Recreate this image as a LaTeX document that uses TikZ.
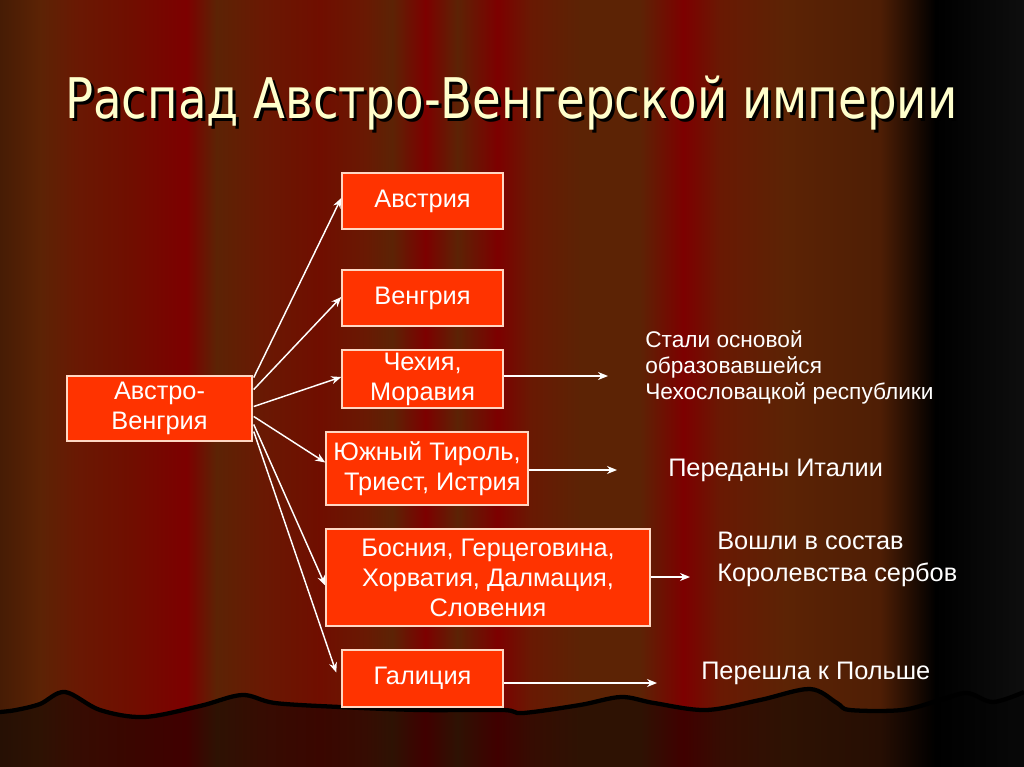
\documentclass[tikz,border=0pt]{standalone}
\usepackage{fontspec}
\setmainfont{Liberation Sans}
\newfontfamily\titlefont{DejaVu Sans}
\usetikzlibrary{arrows.meta,calc}
\definecolor{tA}{RGB}{70,28,5}
\definecolor{tB}{RGB}{92,35,5}
\definecolor{tC}{RGB}{105,25,3}
\definecolor{tD}{RGB}{112,14,0}
\definecolor{tE}{RGB}{125,0,0}
\definecolor{tF}{RGB}{78,30,5}
\definecolor{tK}{RGB}{0,0,0}
\definecolor{tG}{RGB}{14,14,14}
\definecolor{bA}{RGB}{38,16,4}
\definecolor{bB}{RGB}{46,18,3}
\definecolor{bC}{RGB}{54,12,2}
\definecolor{bD}{RGB}{58,6,0}
\definecolor{bE}{RGB}{64,0,0}
\definecolor{bF}{RGB}{38,14,3}
\definecolor{bK}{RGB}{0,0,0}
\definecolor{bG}{RGB}{8,8,8}
\definecolor{boxfill}{RGB}{255,51,0}
\definecolor{boxline}{RGB}{255,215,195}
\definecolor{titlecol}{RGB}{255,255,204}
\newcommand{\titletext}{\resizebox{669pt}{\height}{\fontsize{42}{48}\titlefont Распад Австро-Венгерской империи}}
\begin{document}
\begin{tikzpicture}[x=0.75pt,y=-0.75pt,
  box/.style={draw=boxline, line width=1.1pt, fill=boxfill, text=white,
    font=\fontsize{19}{22.5}\selectfont, align=center, inner sep=0pt},
  lbl/.style={text=white, anchor=west, align=left, inner sep=0pt,
    font=\fontsize{19}{24}\selectfont},
  arr/.style={draw=white, line width=1.1pt, -{Stealth[length=7.5pt,width=6pt]}}]
\useasboundingbox (0,0) rectangle (1024,767);
% curtain stripes (top)
\foreach \xa/\ca/\xb/\cb in {0/A/40/B,40/B/75/C,75/C/130/D,130/D/186/E,186/E/216/B,216/B/260/C,260/C/320/D,320/D/365/C,365/C/392/B,392/B/425/E,425/E/457/B,457/B/497/E,497/E/530/C,530/C/580/B,580/B/640/B,640/B/683/E,683/E/720/C,720/C/785/B,785/B/880/F,880/F/935/K,935/K/1024/G}
  \shade[left color=t\ca, right color=t\cb] (\xa,0) rectangle (\xb+0.6,767);
% floor
\def\wavepts{(0,712) (16,710) (40,704) (65,692) (100,710) (144,717) (200,706) (242,695) (275,703) (340,707) (420,710) (503,710) (523,713) (580,705) (621,697) (654,703) (706,710) (760,700) (810,689) (837,703) (850,710) (902,710) (940,700) (967,693) (993,702) (1024,692)}
\begin{scope}
  \clip plot[smooth,tension=0.55] coordinates {\wavepts} -- (1024,767) -- (0,767) -- cycle;
  \foreach \xa/\ca/\xb/\cb in {0/A/40/B,40/B/75/C,75/C/130/D,130/D/186/E,186/E/216/B,216/B/260/C,260/C/320/D,320/D/365/C,365/C/392/B,392/B/425/E,425/E/457/B,457/B/497/E,497/E/530/C,530/C/580/B,580/B/640/B,640/B/683/E,683/E/720/C,720/C/785/B,785/B/880/F,880/F/935/K,935/K/1024/G}
    \shade[left color=b\ca, right color=b\cb] (\xa,680) rectangle (\xb+0.6,767);
\end{scope}
\draw[black, line width=3.2pt, line join=round] plot[smooth,tension=0.55] coordinates {\wavepts};
% title (with drop shadow in the same node)
\node[anchor=base west, inner sep=0pt] (title) at (65,118)
  {\rlap{\kern2.25pt\raisebox{-2.25pt}{\color{black}\titletext}}\textcolor{titlecol}{\titletext}};
% boxes
\node[box, minimum width=138.75pt, minimum height=48.75pt] (av) at (159.5,408.5) {Австро-\\Венгрия};
\node[box, minimum width=120.75pt, minimum height=42pt] (austria) at (422.5,201) {Австрия};
\node[box, minimum width=120.75pt, minimum height=42pt] (hungary) at (422.5,298) {Венгрия};
\node[box, minimum width=120.75pt, minimum height=43.5pt] (czech) at (422.5,379) {Чехия,\\Моравия};
\node[box, minimum width=151.5pt, minimum height=54.75pt, align=right] (south) at (427,468.5) {Южный Тироль,\\Триест, Истрия};
\node[box, minimum width=243pt, minimum height=72.75pt] (bosnia) at (488,577.5) {Босния, Герцеговина,\\Хорватия, Далмация,\\Словения};
\node[box, minimum width=120.75pt, minimum height=42.75pt] (galicia) at (422.5,678.5) {Галиция};
% right labels
\node[lbl, font=\fontsize{17}{19.5}\selectfont] (lczech) at (645,367) {Стали основой\\образовавшейся\\Чехословацкой республики};
\node[lbl] (lsouth) at (668,470) {Переданы Италии};
\node[lbl] (lbosnia) at (717,559) {Вошли в состав\\Королевства сербов};
\node[lbl] (lgalicia) at (701,673) {Перешла к Польше};
% arrow ends
\coordinate (eczech) at (608,376);
\coordinate (esouth) at (617,470);
\coordinate (ebosnia) at (690,577);
\coordinate (egalicia) at (657,683);
% arrows from Austro-Hungary
\draw[arr] ($(av.east)+(1,-31)$) -- ($(austria.west)+(0,-3)$);
\draw[arr] ($(av.east)+(1,-19)$) -- ($(hungary.west)+(0,-1)$);
\draw[arr] ($(av.east)+(1,-2)$) -- ($(czech.west)+(0,-2)$);
\draw[arr] ($(av.east)+(1,8)$) -- ($(south.west)+(0,-6)$);
\draw[arr] ($(av.east)+(1,16)$) -- ($(bosnia.west)+(0,8)$);
\draw[arr] ($(av.east)+(1,23)$) -- ($(galicia.west)+(-5,-6)$);
% arrows to results
\draw[arr] (czech.east |- eczech) -- (eczech);
\draw[arr] (south.east |- esouth) -- (esouth);
\draw[arr] (bosnia.east |- ebosnia) -- (ebosnia);
\draw[arr] (galicia.east |- egalicia) -- (egalicia);
\end{tikzpicture}
\end{document}
